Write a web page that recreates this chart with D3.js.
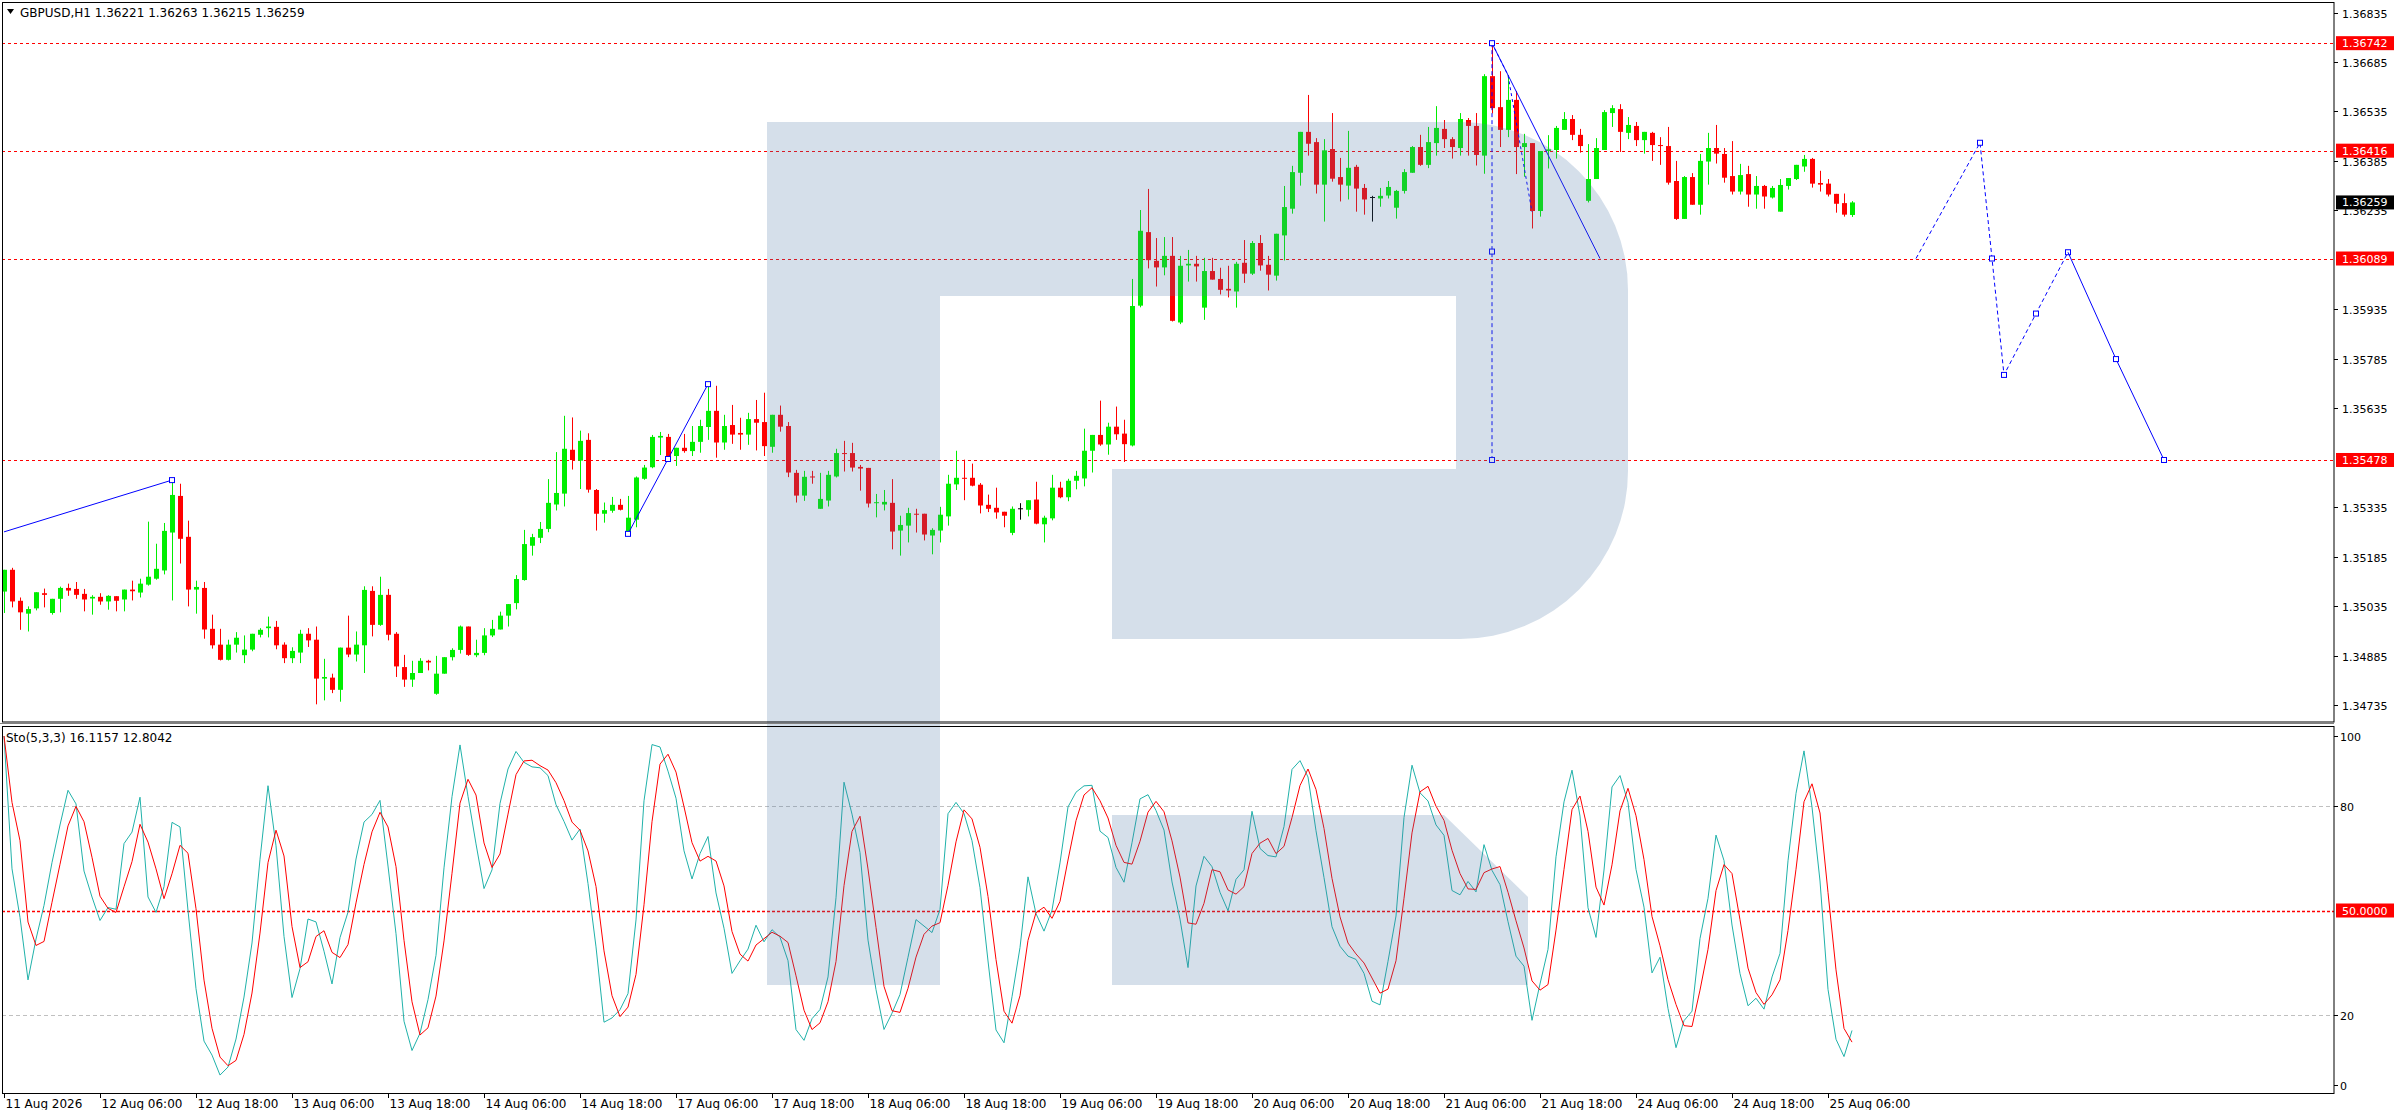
<!DOCTYPE html>
<html><head><meta charset="utf-8">
<script src="https://cdn.jsdelivr.net/npm/d3@7"></script>
<style>body{margin:0;background:#fff;overflow:hidden}text{font-family:"DejaVu Sans",sans-serif}</style>
</head><body>
<svg id="c" width="2396" height="1110"></svg>
<script>
const openP=[1.35079,1.35145,1.35051,1.35012,1.35028,1.35074,1.35014,1.35057,1.35090,1.35087,1.35072,1.35058,1.35063,1.35049,1.35065,1.35055,1.35085,1.35076,1.35100,1.35118,1.35143,1.35258,1.35369,1.35245,1.35085,1.35090,1.34966,1.34918,1.34872,1.34918,1.34886,1.34903,1.34948,1.34968,1.34972,1.34918,1.34877,1.34894,1.34951,1.34933,1.34815,1.34818,1.34781,1.34909,1.34888,1.34916,1.35081,1.34978,1.35069,1.34951,1.34850,1.34812,1.34832,1.34869,1.34769,1.34830,1.34880,1.34902,1.34973,1.34886,
1.34893,1.34946,1.34964,1.35006,1.35044,1.35114,1.35218,1.35242,1.35269,1.35343,1.35376,1.35509,1.35476,1.35539,1.35387,1.35315,1.35324,1.35342,1.35260,1.35297,1.35421,1.35456,1.35546,1.35548,1.35490,1.35515,1.35505,1.35533,1.35578,1.35627,1.35531,1.35584,1.35560,1.35555,1.35602,1.35593,1.35518,1.35615,1.35581,1.35439,1.35370,1.35428,1.35330,1.35355,1.35428,1.35499,1.35499,1.35457,1.35454,1.35348,1.35343,1.35348,1.35264,1.35279,1.35315,1.35315,1.35249,1.35264,1.35307,
1.35404,1.35424,1.35424,1.35403,1.35342,1.35333,1.35321,1.35257,1.35330,1.35327,1.35358,1.35283,1.35301,1.35394,1.35365,1.35415,1.35422,1.35506,1.35554,1.35525,1.35579,1.35558,1.35522,1.35946,1.36169,1.36082,1.36062,1.36097,1.35895,1.36068,1.36073,1.35940,1.36051,1.36027,1.35997,1.35989,1.36076,1.36043,1.36136,1.36070,1.36037,1.36159,1.36240,1.36349,1.36473,1.36442,1.36313,1.36421,1.36336,1.36310,1.36367,1.36303,1.36274,1.36271,1.36280,1.36243,1.36294,1.36349,1.36427,
1.36373,1.36439,1.36482,1.36451,1.36424,1.36509,1.36491,1.36401,1.36642,1.36548,1.36479,1.36570,1.36427,1.36439,1.36233,1.36415,1.36418,1.36479,1.36512,1.36464,1.36264,1.36330,1.36418,1.36530,1.36542,1.36470,1.36491,1.36448,1.36470,1.36433,1.36430,1.36324,1.36209,1.36336,1.36252,1.36383,1.36424,1.36406,1.36339,1.36292,1.36345,1.36283,1.36309,1.36274,1.36231,1.36309,1.36330,1.36368,1.36391,1.36318,1.36316,1.36285,1.36257,1.36221];
const highP=[1.35145,1.35151,1.35061,1.35034,1.35077,1.35088,1.35057,1.35094,1.35103,1.35108,1.35087,1.35068,1.35074,1.35068,1.35065,1.35085,1.35112,1.35118,1.35291,1.35224,1.35287,1.35418,1.35406,1.35294,1.35112,1.35108,1.35009,1.34966,1.34933,1.34956,1.34946,1.34951,1.34968,1.35003,1.34990,1.34925,1.34910,1.34963,1.34968,1.34973,1.34875,1.34830,1.34909,1.35006,1.34958,1.35095,1.35095,1.35124,1.35087,1.34956,1.34887,1.34869,1.34877,1.34872,1.34884,1.34880,1.34907,1.34976,1.34973,1.34933,
1.34968,1.34993,1.35018,1.35041,1.35129,1.35266,1.35254,1.35290,1.35420,1.35502,1.35612,1.35607,1.35567,1.35559,1.35390,1.35349,1.35366,1.35360,1.35369,1.35428,1.35463,1.35554,1.35563,1.35557,1.35515,1.35557,1.35581,1.35600,1.35706,1.35703,1.35615,1.35645,1.35606,1.35621,1.35660,1.35682,1.35615,1.35643,1.35593,1.35448,1.35445,1.35445,1.35439,1.35445,1.35512,1.35536,1.35530,1.35463,1.35454,1.35375,1.35387,1.35420,1.35309,1.35333,1.35330,1.35315,1.35271,1.35336,1.35433,
1.35506,1.35479,1.35467,1.35408,1.35373,1.35394,1.35321,1.35337,1.35347,1.35356,1.35412,1.35309,1.35433,1.35412,1.35421,1.35445,1.35573,1.35554,1.35658,1.35591,1.35640,1.35600,1.36027,1.36236,1.36300,1.36151,1.36154,1.36154,1.36097,1.36115,1.36097,1.36091,1.36091,1.36061,1.36067,1.36079,1.36145,1.36142,1.36160,1.36097,1.36164,1.36309,1.36370,1.36473,1.36585,1.36454,1.36451,1.36530,1.36394,1.36476,1.36373,1.36315,1.36279,1.36303,1.36324,1.36297,1.36360,1.36430,1.36464,
1.36488,1.36551,1.36509,1.36457,1.36530,1.36515,1.36530,1.36648,1.36742,1.36657,1.36645,1.36597,1.36467,1.36439,1.36415,1.36463,1.36491,1.36533,1.36524,1.36482,1.36436,1.36454,1.36539,1.36554,1.36557,1.36518,1.36503,1.36473,1.36473,1.36457,1.36488,1.36385,1.36339,1.36348,1.36406,1.36470,1.36494,1.36424,1.36445,1.36376,1.36370,1.36339,1.36312,1.36309,1.36330,1.36333,1.36373,1.36403,1.36394,1.36355,1.36330,1.36285,1.36286,1.36263];
const lowP=[1.35014,1.35031,1.34963,1.34958,1.35022,1.35031,1.35009,1.35016,1.35066,1.35057,1.35019,1.35009,1.35039,1.35024,1.35019,1.35019,1.35052,1.35061,1.35097,1.35115,1.35131,1.35052,1.35164,1.35034,1.35012,1.34936,1.34906,1.34870,1.34870,1.34894,1.34862,1.34898,1.34940,1.34940,1.34904,1.34862,1.34862,1.34862,1.34911,1.34737,1.34749,1.34771,1.34745,1.34880,1.34867,1.34832,1.34943,1.34975,1.34931,1.34820,1.34790,1.34790,1.34832,1.34840,1.34766,1.34830,1.34870,1.34891,1.34884,1.34880,
1.34886,1.34941,1.34964,1.34973,1.35025,1.35112,1.35188,1.35226,1.35259,1.35325,1.35337,1.35449,1.35390,1.35379,1.35264,1.35288,1.35318,1.35325,1.35251,1.35274,1.35418,1.35453,1.35493,1.35480,1.35460,1.35500,1.35490,1.35500,1.35539,1.35485,1.35509,1.35527,1.35509,1.35524,1.35507,1.35490,1.35500,1.35564,1.35426,1.35349,1.35354,1.35406,1.35330,1.35337,1.35425,1.35443,1.35443,1.35385,1.35334,1.35304,1.35325,1.35207,1.35188,1.35228,1.35258,1.35234,1.35192,1.35228,1.35279,
1.35387,1.35356,1.35398,1.35316,1.35320,1.35300,1.35274,1.35250,1.35297,1.35307,1.35283,1.35228,1.35295,1.35362,1.35353,1.35389,1.35398,1.35440,1.35521,1.35494,1.35539,1.35472,1.35519,1.35941,1.36059,1.36004,1.36038,1.35898,1.35890,1.36019,1.36019,1.35903,1.36025,1.35980,1.35971,1.35940,1.36015,1.36039,1.36052,1.35992,1.36022,1.36083,1.36225,1.36310,1.36401,1.36286,1.36201,1.36322,1.36262,1.36268,1.36231,1.36222,1.36201,1.36246,1.36271,1.36210,1.36286,1.36349,1.36370,
1.36363,1.36401,1.36424,1.36392,1.36401,1.36401,1.36371,1.36346,1.36529,1.36427,1.36457,1.36345,1.36337,1.36180,1.36216,1.36362,1.36392,1.36479,1.36448,1.36410,1.36259,1.36330,1.36418,1.36488,1.36412,1.36451,1.36430,1.36407,1.36385,1.36373,1.36313,1.36206,1.36209,1.36252,1.36222,1.36313,1.36377,1.36319,1.36283,1.36283,1.36246,1.36240,1.36240,1.36271,1.36231,1.36298,1.36327,1.36352,1.36304,1.36292,1.36277,1.36228,1.36216,1.36215];
const closeP=[1.35145,1.35049,1.35016,1.35026,1.35077,1.35069,1.35057,1.35090,1.35082,1.35069,1.35055,1.35063,1.35049,1.35066,1.35051,1.35085,1.35080,1.35103,1.35124,1.35148,1.35263,1.35372,1.35239,1.35085,1.35093,1.34964,1.34916,1.34872,1.34918,1.34939,1.34903,1.34951,1.34963,1.34973,1.34916,1.34877,1.34899,1.34951,1.34931,1.34815,1.34820,1.34781,1.34909,1.34888,1.34918,1.35084,1.34978,1.35069,1.34948,1.34852,1.34812,1.34832,1.34869,1.34864,1.34830,1.34880,1.34902,1.34973,1.34887,1.34893,
1.34946,1.34966,1.35006,1.35041,1.35117,1.35223,1.35244,1.35269,1.35348,1.35378,1.35512,1.35478,1.35536,1.35388,1.35315,1.35326,1.35342,1.35327,1.35303,1.35425,1.35455,1.35548,1.35551,1.35490,1.35515,1.35505,1.35533,1.35581,1.35627,1.35531,1.35581,1.35555,1.35555,1.35602,1.35591,1.35520,1.35615,1.35579,1.35440,1.35370,1.35427,1.35425,1.35360,1.35433,1.35499,1.35497,1.35455,1.35452,1.35346,1.35350,1.35351,1.35261,1.35281,1.35317,1.35312,1.35252,1.35266,1.35312,1.35406,
1.35424,1.35422,1.35400,1.35340,1.35330,1.35319,1.35309,1.35330,1.35330,1.35356,1.35285,1.35303,1.35394,1.35365,1.35415,1.35430,1.35506,1.35554,1.35525,1.35579,1.35556,1.35526,1.35945,1.36173,1.36084,1.36062,1.36097,1.35900,1.36067,1.36073,1.36065,1.36051,1.36025,1.35994,1.35992,1.36073,1.36043,1.36136,1.36068,1.36040,1.36164,1.36245,1.36351,1.36473,1.36437,1.36313,1.36417,1.36331,1.36313,1.36364,1.36301,1.36268,1.36274,1.36279,1.36306,1.36294,1.36351,1.36427,1.36373,
1.36442,1.36485,1.36451,1.36427,1.36512,1.36491,1.36403,1.36642,1.36545,1.36479,1.36570,1.36427,1.36439,1.36233,1.36415,1.36420,1.36485,1.36512,1.36464,1.36430,1.36330,1.36424,1.36533,1.36545,1.36473,1.36494,1.36448,1.36473,1.36433,1.36430,1.36319,1.36209,1.36336,1.36252,1.36385,1.36424,1.36407,1.36334,1.36292,1.36342,1.36283,1.36309,1.36277,1.36303,1.36312,1.36333,1.36373,1.36391,1.36316,1.36313,1.36283,1.36255,1.36222,1.36259];

const levelPrices=[1.36742,1.36416,1.36089,1.35478];
const priceTicks=[1.36835,1.36685,1.36535,1.36385,1.36235,1.35935,1.35785,1.35635,1.35335,1.35185,1.35035,1.34885,1.34735];
const lastPrice=1.36259;
const timeLabels=["11 Aug 2026","12 Aug 06:00","12 Aug 18:00","13 Aug 06:00","13 Aug 18:00","14 Aug 06:00","14 Aug 18:00","17 Aug 06:00","17 Aug 18:00","18 Aug 06:00","18 Aug 18:00","19 Aug 06:00","19 Aug 18:00","20 Aug 06:00","20 Aug 18:00","21 Aug 06:00","21 Aug 18:00","24 Aug 06:00","24 Aug 18:00","25 Aug 06:00"];
const timeLabelBars=[0,12,24,36,48,60,72,84,96,108,120,132,144,156,168,180,192,204,216,228];
const stochTicks=[100,80,20,0];
const stochLevels=[80,20];
// drawn objects (bar index, price)
const trend1=[[0,1.35260],[21,1.35417]];
const trend2=[[78,1.35254],[83,1.35481],[88,1.35708]];
const trend3=[[186,1.36742],[199.5,1.36089]];
const dotted1=[[186,1.36742],[188,1.36645],[191,1.36230]];
const vertical1=[[186,1.36742],[186,1.36110],[186,1.35478]];
const forecastDash=[[239,1.36089],[247,1.36440],[248.5,1.36089],[250,1.35736],[254,1.35922],[258,1.36108]];
const forecastSolid=[[258,1.36108],[264,1.35784],[270,1.35478]];

const svg=d3.select("#c");
const W=2396, axisX=2334, mainTop=2, mainBot=722, stTop=726, stBot=1093;
const x=d3.scaleLinear().domain([0,291]).range([4,2332]);
const y=d3.scaleLinear().domain([1.34735,1.36835]).range([705,12.5]);
const ys=d3.scaleLinear().domain([0,100]).range([1085,736]);
const defs=svg.append("defs");
defs.append("clipPath").attr("id","cm").append("rect").attr("x",2).attr("y",mainTop).attr("width",axisX-2).attr("height",mainBot-mainTop);
defs.append("clipPath").attr("id","cs").append("rect").attr("x",2).attr("y",stTop).attr("width",axisX-2).attr("height",stBot-stTop);
svg.append("rect").attr("width",W).attr("height",1110).attr("fill","#fff");

const gm=svg.append("g").attr("clip-path","url(#cm)");
// levels
levelPrices.forEach(p=>gm.append("line").attr("x1",2).attr("x2",axisX).attr("y1",Math.round(y(p))+0.5).attr("y2",Math.round(y(p))+0.5).attr("stroke","#ff0000").attr("stroke-dasharray","3,3"));
// candles
const N=closeP.length;
const cg=gm.append("g");
for(let i=0;i<N;i++){
  const o=openP[i],c=closeP[i],h=highP[i],l=lowP[i];
  const col=c>o?"#00ee00":(c<o?"#ff0000":"#000000");
  const cx=Math.round(x(i))+0.5;
  cg.append("line").attr("x1",cx).attr("x2",cx).attr("y1",y(h)).attr("y2",y(l)).attr("stroke",col).attr("stroke-width",1);
  const t=y(Math.max(o,c)), b=y(Math.min(o,c));
  if(c===o){cg.append("line").attr("x1",cx-2.5).attr("x2",cx+2.5).attr("y1",t).attr("y2",t).attr("stroke",col);}
  else cg.append("rect").attr("x",cx-2.5).attr("y",t).attr("width",5).attr("height",Math.max(1,b-t)).attr("fill",col);
}
// drawn objects
const ln=d3.line().x(d=>x(d[0])).y(d=>y(d[1]));
const blue="#0000ff";
function path(g,data,dash){g.append("path").attr("d",ln(data)).attr("fill","none").attr("stroke",blue).attr("stroke-width",1).attr("stroke-dasharray",dash||null);}
function marks(g,data){data.forEach(d=>g.append("rect").attr("x",x(d[0])-2.5).attr("y",y(d[1])-2.5).attr("width",5).attr("height",5).attr("fill","#fff").attr("stroke",blue));}
path(gm,trend1); marks(gm,[trend1[1]]);
path(gm,trend2); marks(gm,trend2);
path(gm,trend3);
path(gm,dotted1,"3,3");
path(gm,vertical1,"4,3"); marks(gm,vertical1);
path(gm,forecastDash,"4,3"); marks(gm,forecastDash.slice(1));
path(gm,forecastSolid); marks(gm,forecastSolid.slice(1));

// stochastic
const K=[],D=[];
const lo5=[],hi5=[];
for(let i=0;i<N;i++){const s=Math.max(0,i-4);lo5.push(d3.min(lowP.slice(s,i+1)));hi5.push(d3.max(highP.slice(s,i+1)));}
for(let i=0;i<N;i++){const s=Math.max(0,i-2);let num=0,den=0;for(let j=s;j<=i;j++){num+=closeP[j]-lo5[j];den+=hi5[j]-lo5[j];}K.push(den>0?num/den*100:50);}
for(let i=0;i<N;i++){const s=Math.max(0,i-2);D.push(d3.mean(K.slice(s,i+1)));}
const gs=svg.append("g").attr("clip-path","url(#cs)");
stochLevels.forEach(v=>gs.append("line").attr("x1",2).attr("x2",axisX).attr("y1",Math.round(ys(v))+0.5).attr("y2",Math.round(ys(v))+0.5).attr("stroke","#c0c0c0").attr("stroke-dasharray","4,3"));
gs.append("line").attr("x1",2).attr("x2",axisX).attr("y1",Math.round(ys(50))+0.5).attr("y2",Math.round(ys(50))+0.5).attr("stroke","#ff0000").attr("stroke-dasharray","3,2").attr("stroke-width",1.4);
const sl=d3.line().x((d,i)=>x(i)).y(d=>ys(d));
gs.append("path").attr("d",sl(K)).attr("fill","none").attr("stroke","#20b2aa").attr("stroke-width",1);
gs.append("path").attr("d",sl(D)).attr("fill","none").attr("stroke","#ff0000").attr("stroke-width",1);

// logo overlay
const logo="M767,122 H1460 A168,168 0 0 1 1628,290 V470 A168,168 0 0 1 1460,639 H1112 V469 H1456 V296 H940 V985 H767 Z M1112,815 H1444 L1528,897 V985 H1112 Z";
svg.append("path").attr("d",logo).attr("fill","rgb(76,119,166)").attr("fill-opacity",0.235).attr("fill-rule","nonzero");

// frames
svg.append("rect").attr("x",2.5).attr("y",2.5).attr("width",axisX-2.5).attr("height",mainBot-2.5).attr("fill","none").attr("stroke","#000");
svg.append("rect").attr("x",2.5).attr("y",stTop+0.5).attr("width",axisX-2.5).attr("height",stBot-stTop).attr("fill","none").attr("stroke","#000");
svg.append("line").attr("x1",0).attr("x2",axisX).attr("y1",mainBot+1.5).attr("y2",mainBot+1.5).attr("stroke","#808080");

// price axis
const ax=svg.append("g");
priceTicks.forEach(p=>{const yy=Math.round(y(p))+0.5;
 ax.append("line").attr("x1",axisX).attr("x2",axisX+4).attr("y1",yy).attr("y2",yy).attr("stroke","#000");
 ax.append("text").attr("x",axisX+8).attr("y",yy+4).attr("font-size",11).attr("fill","#000").text(p.toFixed(5));});
function box(p,yy,bg){ax.append("rect").attr("x",axisX+2).attr("y",yy-7).attr("width",58).attr("height",14).attr("fill",bg);
 ax.append("text").attr("x",axisX+8).attr("y",yy+4).attr("font-size",11).attr("fill","#fff").text(p);}
levelPrices.forEach(p=>box(p.toFixed(5),y(p),"#ff0000"));
box(lastPrice.toFixed(5),y(lastPrice),"#000");
// stoch axis
stochTicks.forEach(v=>{const yy=Math.round(ys(v))+0.5;
 ax.append("line").attr("x1",axisX).attr("x2",axisX+4).attr("y1",yy).attr("y2",yy).attr("stroke","#000");
 ax.append("text").attr("x",axisX+6).attr("y",yy+4).attr("font-size",11).attr("fill","#000").text(v);});
box("50.0000",ys(50),"#ff0000");
// time axis
timeLabelBars.forEach((b,i)=>{const xx=Math.round(x(b))+0.5;
 ax.append("line").attr("x1",xx).attr("x2",xx).attr("y1",stBot).attr("y2",stBot+5).attr("stroke","#000");
 ax.append("text").attr("x",xx+1).attr("y",1108).attr("font-size",12).attr("font-family","'DejaVu Sans Condensed','Liberation Sans Narrow','Liberation Sans',sans-serif").attr("fill","#000").text(timeLabels[i]);});
// headers
svg.append("path").attr("d","M7,9 L14,9 L10.5,14 Z").attr("fill","#000");
svg.append("text").attr("x",20).attr("y",17).attr("font-size",12).attr("font-family","'DejaVu Sans Condensed','Liberation Sans Narrow',sans-serif").attr("fill","#000").text("GBPUSD,H1  1.36221 1.36263 1.36215 1.36259");
svg.append("text").attr("x",6).attr("y",742).attr("font-size",12).attr("font-family","'DejaVu Sans Condensed','Liberation Sans Narrow',sans-serif").attr("fill","#000").text("Sto(5,3,3) 16.1157 12.8042");
</script>
</body></html>
